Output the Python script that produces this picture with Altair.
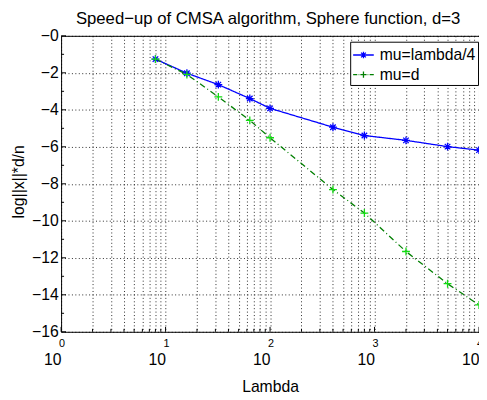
import altair as alt
import pandas as pd

# ---- data ----
lam = [8, 16, 32, 64, 100, 400, 800, 2000, 5000, 10000]
mu_quarter = [-1.26, -2.02, -2.64, -3.39, -3.92, -4.94, -5.39, -5.65, -5.99, -6.18]
mu_d = [-1.26, -2.09, -3.30, -4.57, -5.51, -8.31, -9.58, -11.66, -13.40, -14.55]
series_names = ["mu=lambda/4", "mu=d"]
chart_title = ["Speed\u2212up of CMSA algorithm, Sphere function, d=3"]

x_ticks = [m * 10 ** k for k in range(4) for m in range(1, 10)] + [10000]
x_major = [1, 10, 100, 1000, 10000]
x_minor = [v for v in x_ticks if v not in x_major]
exponents = ["0", "1", "2", "3", "4"]
y_major = list(range(0, -17, -2))
y_minor = list(range(-1, -16, -2))

W, H = 425, 301
FONT = "Liberation Sans"

df = pd.DataFrame({
    "lam": lam * 2,
    "val": mu_quarter + mu_d,
    "series": [s for s in series_names for _ in lam],
})

xs = alt.Scale(type="log", domain=[1, 10000], nice=False)
ys = alt.Scale(domain=[-16, 0], nice=False, zero=False)

star = "M-1,0L1,0M0,-1L0,1M-0.7,-0.7L0.7,0.7M-0.7,0.7L0.7,-0.7"
plus = "M-1,0L1,0M0,-1L0,1"
leg_star = ("M-1,0L1,0M-0.32,0L0.32,0M0,-0.32L0,0.32"
            "M-0.23,-0.23L0.23,0.23M-0.23,0.23L0.23,-0.23")
leg_plus = ("M-1,0L-0.6,0M-0.47,0L-0.4,0M-0.3,0L0.3,0M0.4,0L0.47,0"
            "M0.6,0L1,0M0,-0.3L0,0.3")

x_axis = alt.Axis(
    values=x_ticks, grid=True, ticks=False, domain=False,
    labelExpr="indexof([1,10,100,1000,10000], datum.value) >= 0 ? '10' : ''",
    labelAlign="right", labelBaseline="alphabetic", labelPadding=33,
    labelFontSize=16, labelOverlap=False, labelFlush=False,
    title="Lambda", titleFontSize=16, titleFontWeight="normal",
    titleBaseline="alphabetic", titleY=61,
)
y_axis = alt.Axis(
    values=y_major, grid=True, ticks=False, domain=False,
    labelExpr="datum.value == 0 ? '\u22120' : datum.label",
    labelFontSize=16, labelPadding=3,
    title="log||x||*d/n", titleFontSize=16, titleFontWeight="normal",
    titleBaseline="alphabetic", titleX=-38, titleY=148,
)


def X(field="lam"):
    return alt.X(f"{field}:Q", scale=xs, axis=x_axis, title="Lambda")


def Y(field="val"):
    return alt.Y(f"{field}:Q", scale=ys, axis=y_axis, title="log||x||*d/n")


lines = alt.Chart(df).mark_line(strokeWidth=1.3).encode(
    x=X(), y=Y(),
    color=alt.Color("series:N", scale=alt.Scale(domain=series_names, range=["#0000ff", "#007f00"]), legend=None),
    strokeDash=alt.StrokeDash("series:N", scale=alt.Scale(domain=series_names, range=[[1, 0], [6, 3, 1, 3]]), legend=None),
)

points = alt.Chart(df).mark_point(filled=False, size=64, strokeWidth=1.3, opacity=1).encode(
    x=X(), y=Y(),
    color=alt.Color("series:N", scale=alt.Scale(domain=series_names, range=["#0000ff", "#11dd11"]), legend=None),
    shape=alt.Shape("series:N", scale=alt.Scale(domain=series_names, range=[star, plus]), legend=None),
)

leg = alt.Legend(
    title=None, orient="none", legendX=294, legendY=6,
    fillColor="white", strokeColor="black", padding=2,
    labelFontSize=16, labelFont=FONT, labelColor="black", labelOffset=5,
    symbolSize=441, symbolStrokeWidth=1.3, rowPadding=-3,
)
legend_layer = alt.Chart(df).transform_filter("datum.lam < 0").mark_point(
    filled=False, size=441, strokeWidth=1.3, opacity=1
).encode(
    x=X(), y=Y(),
    color=alt.Color("series:N", scale=alt.Scale(domain=series_names, range=["#0000ff", "#007f00"]), legend=leg),
    shape=alt.Shape("series:N", scale=alt.Scale(domain=series_names, range=[leg_star, leg_plus]), legend=leg),
)

ymaj = alt.Chart(pd.DataFrame({"val": y_major})).mark_rule(color="black").encode(
    y=Y(), x=alt.value(0), x2=alt.value(5))
ymin = alt.Chart(pd.DataFrame({"val": y_minor})).mark_rule(color="black").encode(
    y=Y(), x=alt.value(0), x2=alt.value(3))
xmaj = alt.Chart(pd.DataFrame({"lam": x_major})).mark_rule(color="black").encode(
    x=X(), y=alt.value(H), y2=alt.value(H - 5))
xmin = alt.Chart(pd.DataFrame({"lam": x_minor})).mark_rule(color="black").encode(
    x=X(), y=alt.value(H), y2=alt.value(H - 3))

expo = alt.Chart(pd.DataFrame({"lam": x_major, "exp": exponents})).mark_text(
    fontSize=11, baseline="alphabetic", align="center", dx=1, color="black"
).encode(x=X(), y=alt.value(H + 15), text="exp:N")

title_layer = alt.Chart(pd.DataFrame({"t": chart_title})).mark_text(
    fontSize=17, font=FONT, baseline="alphabetic", align="center", color="black"
).encode(x=alt.value(W / 2 - 2), y=alt.value(-12), text="t:N")

chart = alt.layer(
    lines, points, ymaj, ymin, xmaj, xmin, expo, legend_layer, title_layer
).resolve_scale(
    color="independent", shape="independent", strokeDash="independent"
).properties(
    width=W, height=H,
    autosize=alt.AutoSizeParams(type="none"),
    padding={"left": 54, "top": 25, "right": 0, "bottom": 62},
).configure(font=FONT).configure_axis(
    gridColor="#000", gridDash=[1, 2.5], gridOpacity=0.85, gridWidth=1,
    labelColor="black", titleColor="black", labelFont=FONT, titleFont=FONT,
).configure_view(stroke="black", strokeWidth=1)

chart.save("out.html", embed_options={"renderer": "svg", "actions": False})
